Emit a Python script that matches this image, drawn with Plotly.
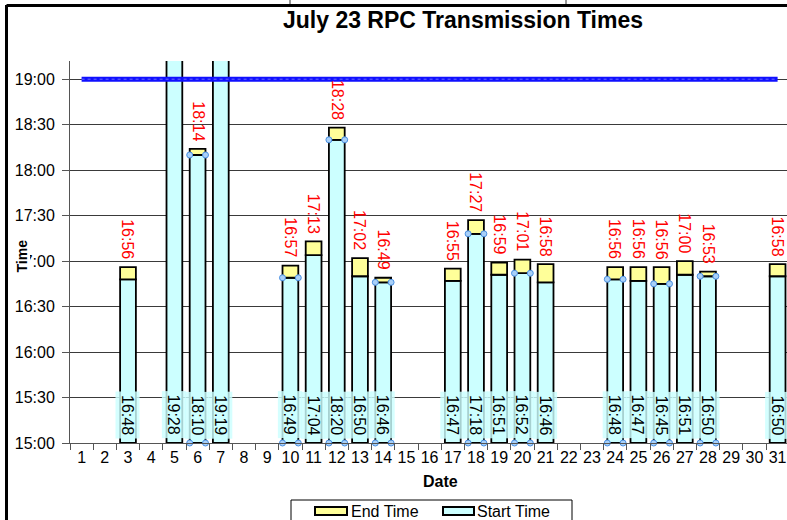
import plotly.graph_objects as go

# ---------------- data ----------------
days = [3, 5, 6, 7, 10, 11, 12, 13, 14, 17, 18, 19, 20, 21, 24, 25, 26, 27, 28, 31]
start_times = ["16:48", "19:28", "18:10", "19:19", "16:49", "17:04", "18:20", "16:50", "16:46",
               "16:47", "17:18", "16:51", "16:52", "16:46", "16:48", "16:47", "16:45", "16:51",
               "16:50", "16:50"]
end_times = ["16:56", "19:36", "18:14", "19:27", "16:57", "17:13", "18:28", "17:02", "16:49",
             "16:55", "17:27", "16:59", "17:01", "16:58", "16:56", "16:56", "16:56", "17:00",
             "16:53", "16:58"]
selected_days = [6, 10, 12, 14, 18, 20, 24, 26, 28]
deadline = "19:00"
date_ticks = list(range(1, 32))
time_ticks = ["15:00", "15:30", "16:00", "16:30", "17:00", "17:30", "18:00", "18:30", "19:00"]


def hrs(t):
    h, m = t.split(":")
    return int(h) + int(m) / 60.0


BASE = 15.0
YMAX = 19.2
start_h = [hrs(t) for t in start_times]
end_h = [hrs(t) for t in end_times]

# ---------------- layout geometry ----------------
W, H = 787, 520
ML, MR, MT, MB = 70, 0, 61, 77
PW, PH = W - ML - MR, H - MT - MB
XMIN = 0.5
XMAX = XMIN + PW / 23.2
BW = 0.68


def px(x):
    return (x - ML) / PW


def py(y):
    return (H - MB - y) / PH


FONT = "Liberation Sans, Arial, sans-serif"
CYAN = "#ccffff"
YELLOW = "#ffff99"

fig = go.Figure()

fig.add_trace(go.Bar(
    x=days, y=[s - BASE for s in start_h], base=[BASE] * len(days),
    width=BW, marker=dict(color=CYAN, line=dict(color="black", width=1.8)),
    name="Start Time", cliponaxis=True, showlegend=False))

fig.add_trace(go.Bar(
    x=days, y=[e - s for s, e in zip(start_h, end_h)], base=start_h,
    width=BW, marker=dict(color=YELLOW, line=dict(color="black", width=1.8)),
    name="End Time", cliponaxis=True, showlegend=False))

# deadline line
fig.add_trace(go.Scatter(
    x=date_ticks, y=[hrs(deadline)] * len(date_ticks), mode="lines",
    line=dict(color="#1010ff", width=5), showlegend=False, hoverinfo="skip"))
fig.add_trace(go.Scatter(
    x=date_ticks, y=[hrs(deadline)] * len(date_ticks), mode="lines",
    line=dict(color="#6a6aff", width=1, dash="dot"), showlegend=False, hoverinfo="skip"))

# selection handles
hx, hy = [], []
for d, s in zip(days, start_h):
    if d in selected_days:
        for dx in (-BW / 2, BW / 2):
            hx += [d + dx, d + dx]
            hy += [s, BASE]
fig.add_trace(go.Scatter(
    x=hx, y=hy, mode="markers",
    marker=dict(size=6, color="#a8d0f8", line=dict(color="#4a90e2", width=1)),
    showlegend=False, hoverinfo="skip", cliponaxis=False))

annotations = []
for d, s, st, e, et in zip(days, start_h, start_times, end_h, end_times):
    annotations.append(dict(
        x=d, y=BASE, xref="x", yref="y", text=st, showarrow=False, textangle=90,
        yanchor="bottom", xanchor="center", yshift=4, bgcolor="rgba(204,255,255,0.82)",
        borderpad=3, font=dict(family=FONT, size=16, color="black")))
    if e < YMAX:
        annotations.append(dict(
            x=d, y=e, xref="x", yref="y", text=et, showarrow=False, textangle=90,
            yanchor="bottom", xanchor="center", yshift=6,
            font=dict(family=FONT, size=16, color="#ff0000")))

annotations.append(dict(
    x=px(440), y=py(481), xref="paper", yref="paper", text="<b>Date</b>", showarrow=False,
    xanchor="center", yanchor="middle", font=dict(family=FONT, size=16, color="black")))
annotations.append(dict(
    x=px(21.5), y=py(256), xref="paper", yref="paper", text="<b>Time</b>", showarrow=False,
    textangle=-90, xanchor="center", yanchor="middle", bgcolor="white", borderpad=0,
    font=dict(family=FONT, size=14, color="black")))
# legend texts
annotations.append(dict(
    x=px(349), y=py(511), xref="paper", yref="paper", text="End Time", showarrow=False,
    xanchor="left", yanchor="middle", font=dict(family=FONT, size=16, color="black")))
annotations.append(dict(
    x=px(475), y=py(511), xref="paper", yref="paper", text="Start Time", showarrow=False,
    xanchor="left", yanchor="middle", font=dict(family=FONT, size=16, color="black")))

shapes = [
    # chart outer border
    dict(type="line", xref="paper", yref="paper", x0=px(6.5), x1=px(6.5), y0=py(5), y1=py(520),
         line=dict(color="black", width=3)),
    dict(type="line", xref="paper", yref="paper", x0=px(6.5), x1=px(787), y0=py(5.5), y1=py(5.5),
         line=dict(color="black", width=3)),
    dict(type="line", xref="paper", yref="paper", x0=px(290), x1=px(290), y0=py(0), y1=py(4),
         line=dict(color="#333", width=1)),
    dict(type="line", xref="paper", yref="paper", x0=px(566), x1=px(566), y0=py(0), y1=py(4),
         line=dict(color="#333", width=1)),
    # legend box
    dict(type="rect", xref="paper", yref="paper", x0=px(291), x1=px(572), y0=py(500), y1=py(526),
         line=dict(color="black", width=1), fillcolor="white"),
    dict(type="rect", xref="paper", yref="paper", x0=px(315), x1=px(347), y0=py(507), y1=py(515),
         line=dict(color="black", width=2), fillcolor=YELLOW),
    dict(type="rect", xref="paper", yref="paper", x0=px(443), x1=px(474), y0=py(507), y1=py(515),
         line=dict(color="black", width=2), fillcolor=CYAN),
]

fig.update_layout(
    width=W, height=H,
    margin=dict(l=ML, r=MR, t=MT, b=MB, pad=0),
    paper_bgcolor="white", plot_bgcolor="white",
    barmode="overlay", showlegend=False,
    font=dict(family=FONT, size=16, color="black"),
    title=dict(text="<b>July 23 RPC Transmission Times</b>", xref="container", yref="container",
               x=463 / W, y=1 - 19.5 / H, xanchor="center", yanchor="middle",
               font=dict(family=FONT, size=23, color="black")),
    xaxis=dict(range=[XMIN, XMAX], tickmode="array", tickvals=date_ticks,
               ticktext=[str(d) for d in date_ticks], ticks="", showgrid=False, zeroline=False,
               showline=True, linecolor="#555", linewidth=1,
               tickfont=dict(family=FONT, size=16, color="black"),
               minor=dict(tick0=0.5, dtick=1, ticks="outside", ticklen=6, tickcolor="#555",
                          tickwidth=1, showgrid=False)),
    yaxis=dict(range=[BASE, YMAX], tickmode="array", tickvals=[hrs(t) for t in time_ticks],
               ticktext=time_ticks, ticks="outside", ticklen=7, tickcolor="#555",
               ticklabelstandoff=4,
               showgrid=True, gridcolor="#3a3a3a", gridwidth=1, zeroline=False,
               showline=True, linecolor="#555", linewidth=1,
               tickfont=dict(family=FONT, size=16, color="black")),
    annotations=annotations, shapes=shapes,
)

fig.write_html("out.html", config={"displayModeBar": False},
               post_script="document.body.style.margin='0';document.body.style.overflow='hidden';")
